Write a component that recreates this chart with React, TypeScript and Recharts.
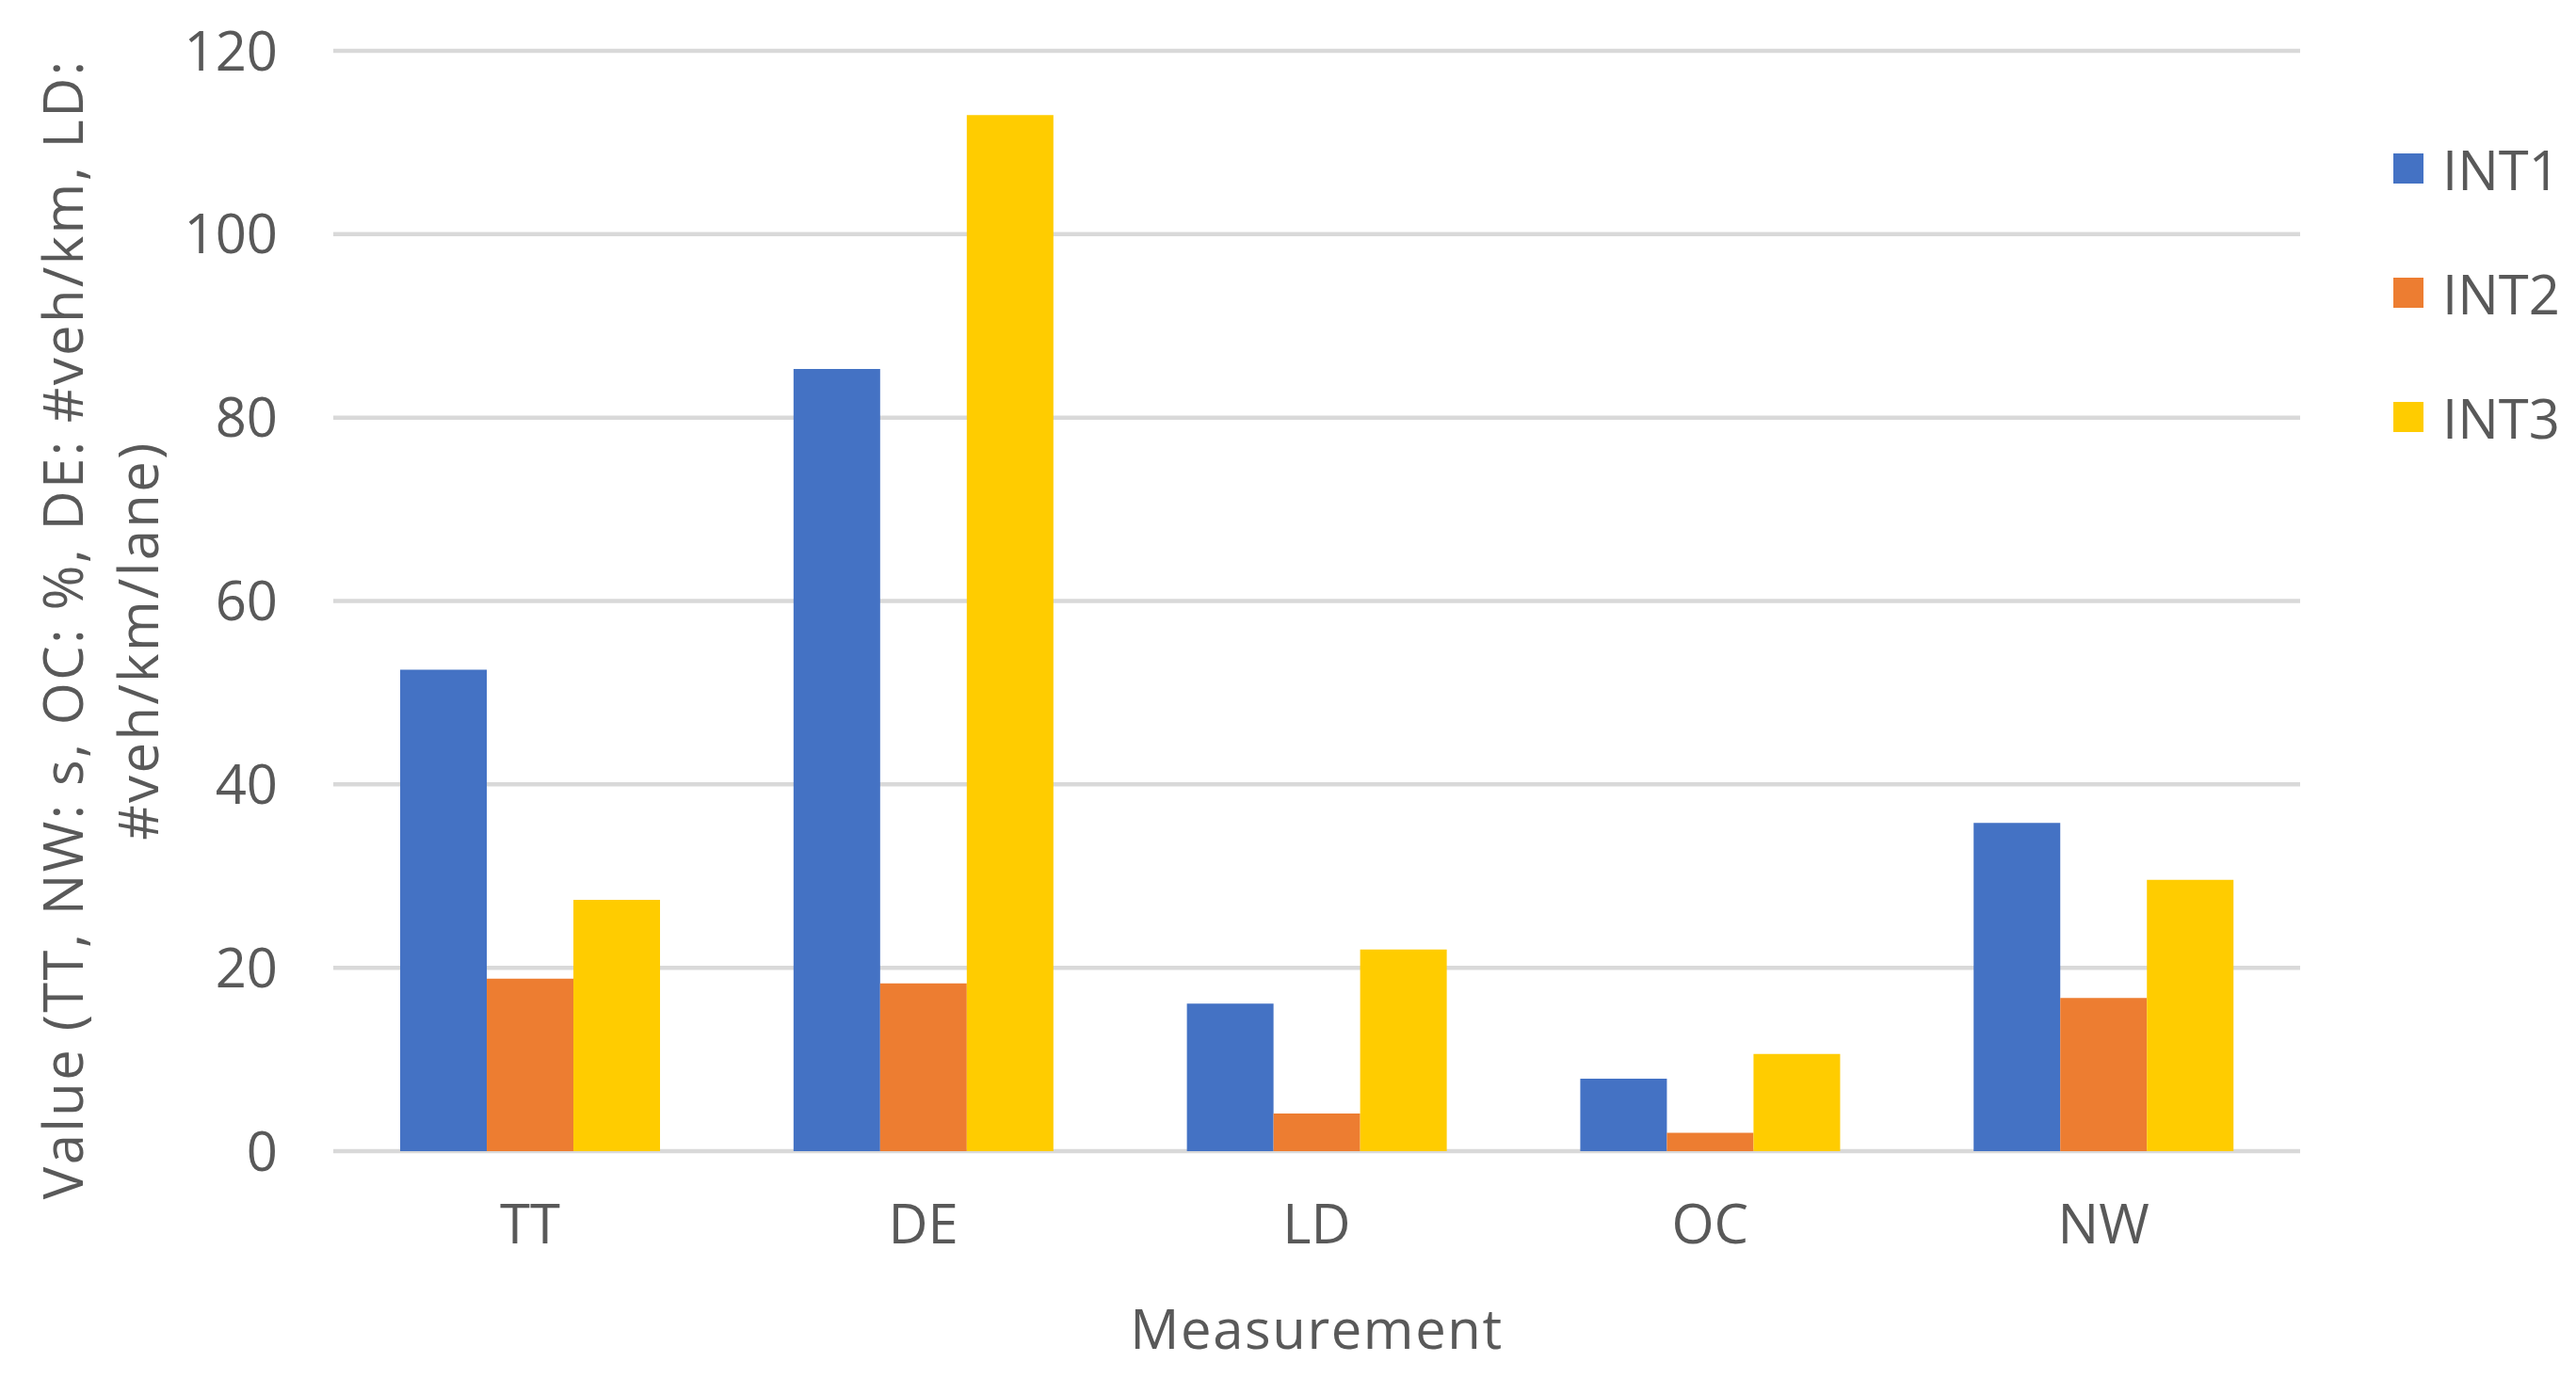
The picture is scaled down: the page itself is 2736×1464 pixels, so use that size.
import React from "react";
import {
  BarChart,
  Bar,
  XAxis,
  YAxis,
  CartesianGrid,
  Legend,
  Label,
} from "recharts";

const categories = ["TT", "DE", "LD", "OC", "NW"];
const int1 = [52.5, 85.3, 16.1, 7.9, 35.8];
const int2 = [18.8, 18.3, 4.1, 2.0, 16.7];
const int3 = [27.4, 113.0, 22.0, 10.6, 29.6];
const yTicks = [0, 20, 40, 60, 80, 100, 120];

const seriesNames = ["INT1", "INT2", "INT3"];
const seriesColors = ["#4472C4", "#ED7D31", "#FFCC00"];

const yLabelLines = ["Value (TT, NW: s, OC: %, DE: #veh/km, LD:", "#veh/km/lane)"];

const data = categories.map((name, i) => ({
  name,
  INT1: int1[i],
  INT2: int2[i],
  INT3: int3[i],
}));

const FONT = "'Open Sans', sans-serif";
const TEXT = "#595959";
const FS = 58;

const renderLegend = () => (
  <div style={{ fontFamily: FONT, fontSize: FS, color: TEXT }}>
    {seriesNames.map((name, i) => (
      <div
        key={name}
        style={{ display: "flex", alignItems: "center", height: 132 }}
      >
        <span
          style={{
            display: "inline-block",
            width: 32,
            height: 32,
            background: seriesColors[i],
            marginRight: 20,
          }}
        />
        <span>{name}</span>
      </div>
    ))}
  </div>
);

// two-line rotated axis title, like Excel wraps it
const YTitle = (props: any) => {
  const vb = props.viewBox || {};
  const cy = vb.y + vb.height / 2 + 30;
  const xs = [65, 145];
  return (
    <g>
      {yLabelLines.map((line, i) => {
        const y = cy + (i === 1 ? 12 : 0);
        return (
          <text
            key={i}
            x={xs[i]}
            y={y}
            transform={`rotate(-90, ${xs[i]}, ${y})`}
            textAnchor="middle"
            dominantBaseline="central"
            fill={TEXT}
            fontFamily={FONT}
            fontSize={FS}
            letterSpacing={2.4}
          >
            {line}
          </text>
        );
      })}
    </g>
  );
};

const XTitle = (props: any) => {
  const vb = props.viewBox || {};
  return (
    <text
      x={vb.x + vb.width / 2}
      y={vb.y + 187}
      textAnchor="middle"
      dominantBaseline="central"
      fill={TEXT}
      fontFamily={FONT}
      fontSize={FS}
      letterSpacing={1.6}
    >
      Measurement
    </text>
  );
};

export default function App() {
  return (
    <div style={{ position: "absolute", left: 0, top: 0, background: "#fff" }}>
      <BarChart
        width={2736}
        height={1464}
        data={data}
        margin={{ top: 54, right: 293, bottom: 0, left: 0 }}
        barCategoryGap="17%"
        barGap={0}
      >
        <CartesianGrid vertical={false} stroke="#D9D9D9" strokeWidth={4.5} />
        <XAxis
          dataKey="name"
          height={241}
          axisLine={false}
          tickLine={false}
          tickSize={0}
          tickMargin={57}
          tick={{ fill: TEXT, fontSize: FS, fontFamily: FONT }}
        >
          <Label content={<XTitle />} />
        </XAxis>
        <YAxis
          width={354}
          domain={[0, 120]}
          ticks={yTicks}
          axisLine={false}
          tickLine={false}
          tickSize={0}
          tickMargin={59}
          tick={{ fill: TEXT, fontSize: FS, fontFamily: FONT }}
        >
          <Label content={<YTitle />} />
        </YAxis>
        <Legend
          layout="vertical"
          align="center"
          verticalAlign="middle"
          content={renderLegend}
          wrapperStyle={{ left: 2542, top: 113, width: 194 }}
        />
        {seriesNames.map((name, i) => (
          <Bar
            key={name}
            dataKey={name}
            fill={seriesColors[i]}
            isAnimationActive={false}
          />
        ))}
      </BarChart>
    </div>
  );
}
